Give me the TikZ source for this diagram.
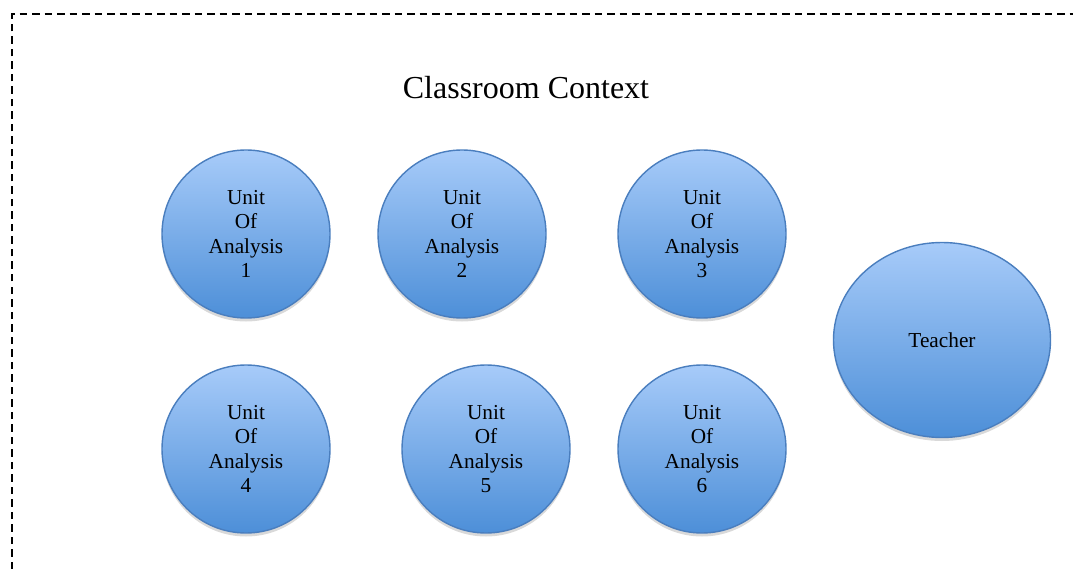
\documentclass[tikz,border=0pt]{standalone}
\usepackage{fontspec}
\setmainfont{Liberation Serif}
\usetikzlibrary{shadows,shapes.geometric}

\definecolor{unittop}{HTML}{A7CBF9}
\definecolor{unitbot}{HTML}{4D8FD8}
\definecolor{unitline}{HTML}{4A7EBE}

\tikzset{
  unit/.style={circle,draw=unitline,line width=1.4pt,top color=unittop,bottom color=unitbot,
    minimum size=168pt,inner sep=0pt,align=center,
    font=\fontsize{21.3}{24.5}\selectfont,
    drop shadow={opacity=0.3,shadow xshift=0pt,shadow yshift=-3.5pt}},
  frame/.style={draw,line width=1.8pt,dash pattern=on 7.5pt off 5pt}
}

\begin{document}
\begin{tikzpicture}[x=1pt,y=-1pt]
        \useasboundingbox (0,0) rectangle (1073,569);

        % dashed context frame
        \draw[frame] (12,569) -- (12,14) -- (1073,14);

        \node (title) at (526,88) {\fontsize{32}{38}\selectfont Classroom Context};

        \begin{scope}[every node/.style={unit}]
          \node (u1) at (246,234) {Unit\\Of\\Analysis\\1};
          \node (u2) at (462,234) {Unit\\Of\\Analysis\\2};
          \node (u3) at (702,234) {Unit\\Of\\Analysis\\3};
          \node (u4) at (246,449) {Unit\\Of\\Analysis\\4};
          \node (u5) at (486,449) {Unit\\Of\\Analysis\\5};
          \node (u6) at (702,449) {Unit\\Of\\Analysis\\6};
          \node[ellipse,minimum width=217pt,minimum height=195pt] (teacher) at (942,340) {Teacher};
        \end{scope}

      \end{tikzpicture}
\end{document}
